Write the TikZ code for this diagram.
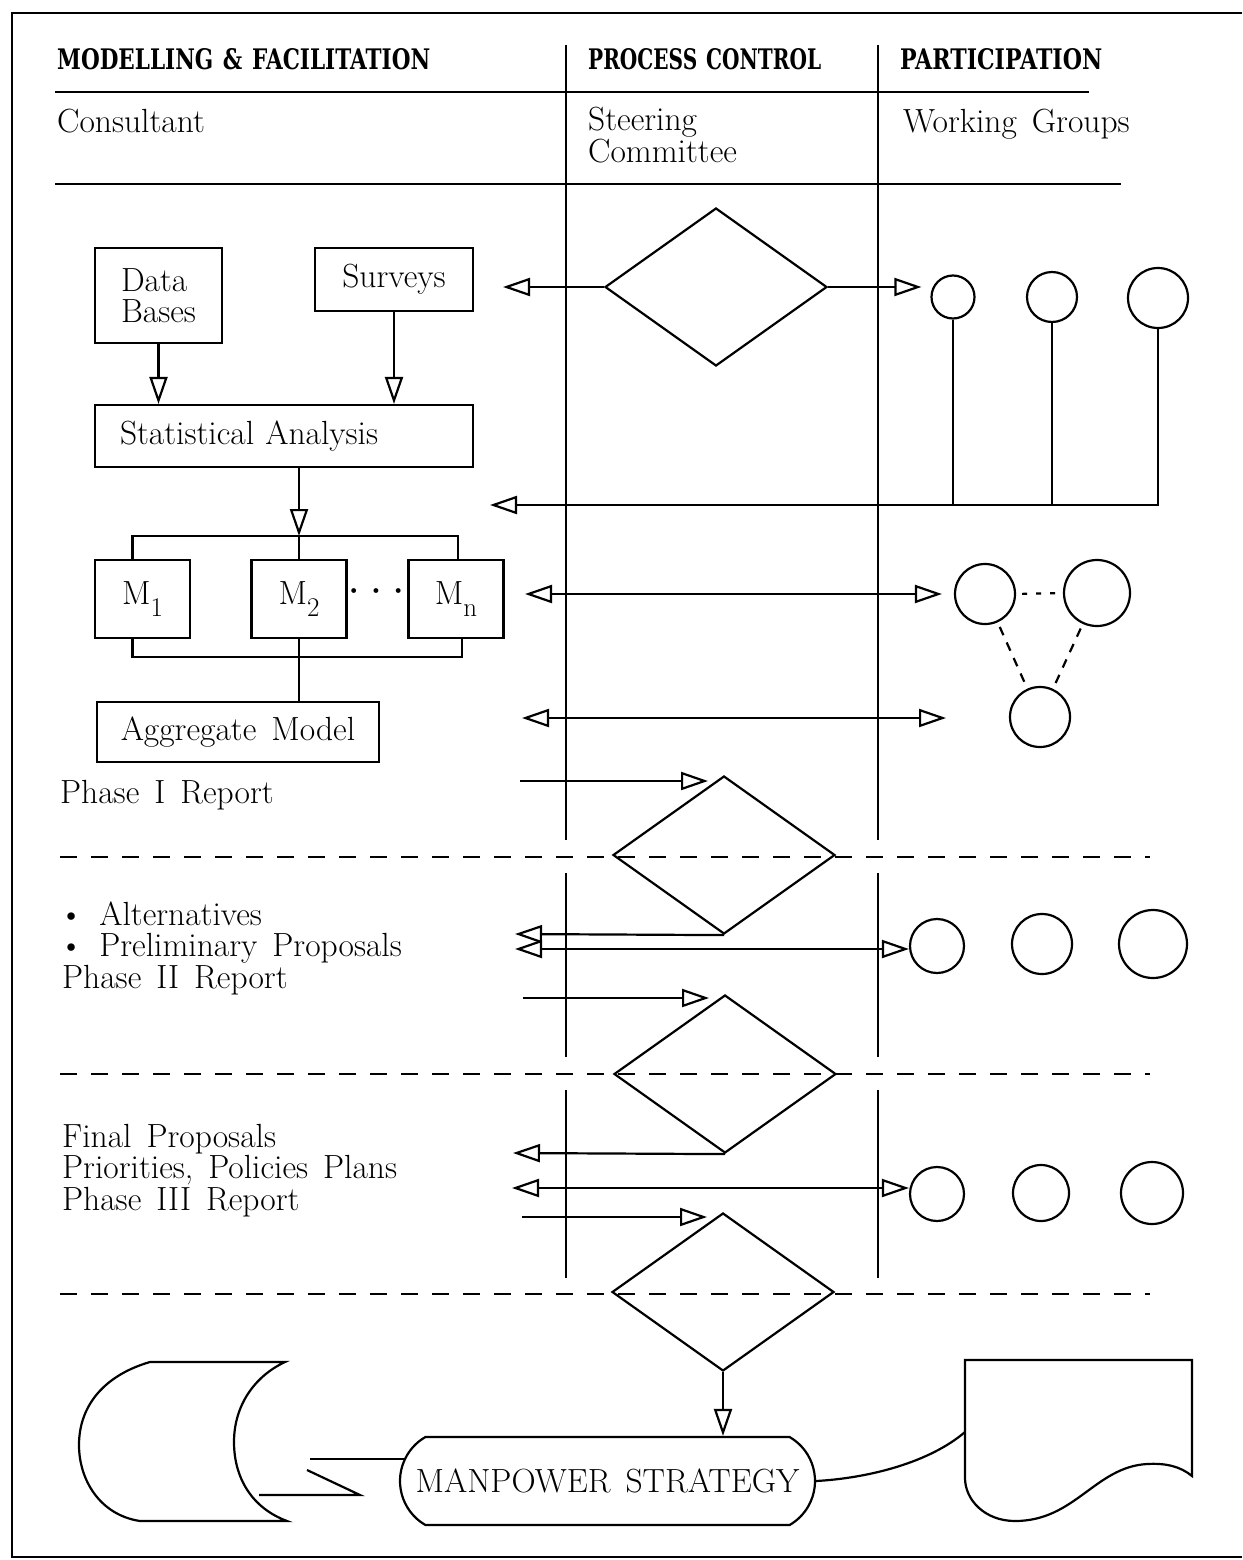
\documentclass[tikz,border=0pt]{standalone}
\usepackage{fontspec}
\usepackage{graphicx}
\newfontfamily\hdrfont{DejaVu Serif}
\newcommand\widesp{\spaceskip=15pt plus 3pt minus 3pt\relax}
\newcommand\bodyfont{\fontsize{33.5}{31}\selectfont\widesp}
\usetikzlibrary{arrows.meta,shapes.geometric,shapes.misc}
\begin{document}
\begin{tikzpicture}[x=1pt,y=-1pt,
  every node/.style={font=\bodyfont, inner sep=0pt},
  ln/.style={line width=2.2pt},
  arr/.style={ln,-{Triangle[open,length=27pt,width=18pt]}},
  darr/.style={ln,{Triangle[open,length=27pt,width=18pt]}-{Triangle[open,length=27pt,width=18pt]}},
  box/.style={draw,line width=2.2pt,inner sep=0pt},
  dia/.style={draw,diamond,line width=2.2pt,minimum width=222pt,minimum height=158pt,inner sep=0pt},
  wg/.style={draw,circle,line width=2.2pt,inner sep=0pt},
  phase/.style={dash pattern=on 17pt off 14pt,line width=2.2pt},
  txt/.style={anchor=base west},
  hline/.style={line width=2.6pt}
]
\useasboundingbox (0,0) rectangle (1242,1560);
% frame
\draw[line width=2pt] (1242,13) -- (12,13) -- (12,1557) -- (1242,1557);

% headers
\node[txt] (h1) at (57,70) {\resizebox{373pt}{21pt}{\hdrfont\bfseries MODELLING \& FACILITATION}};
\node[txt] (h2) at (588,70) {\resizebox{233pt}{21pt}{\hdrfont\bfseries PROCESS CONTROL}};
\node[txt] (h3) at (900,70) {\resizebox{202pt}{21pt}{\hdrfont\bfseries PARTICIPATION}};
\draw[hline] (55,92) -- (1089,92);
\node[txt] (cons) at (57,132) {Consultant};
\node[txt] (st1) at (588,131) {Steering};
\node[txt] (st2) at (588,162) {Committee};
\node[txt] (wgrp) at (903,132) {Working Groups};
\draw[hline] (55,184) -- (1121,184);

% swimlane dividers
\foreach \x in {566,878} {
  \draw[ln] (\x,45) -- (\x,840);
  \draw[ln] (\x,873) -- (\x,1057);
  \draw[ln] (\x,1090) -- (\x,1278);
}
% phase separators
\foreach \y in {857,1074,1294} \draw[phase] (60,\y) -- (1150,\y);

% consultant boxes
\node[box,minimum width=127pt,minimum height=95pt,align=left] (db) at (158.5,295.5) {Data\\Bases};
\node[box,minimum width=158pt,minimum height=63pt] (sv) at (394,279.5) {Surveys};
\node[box,minimum height=62pt,text width=328pt,align=left,inner xsep=25pt] (stat) at (284,436) {Statistical Analysis};
\node[box,minimum width=95pt,minimum height=78pt] (m1) at (142.5,599) {M\raisebox{-12pt}{\fontsize{27}{27}\selectfont 1}};
\node[box,minimum width=95pt,minimum height=78pt] (m2) at (299,599) {M\raisebox{-12pt}{\fontsize{27}{27}\selectfont 2}};
\node[box,minimum width=95pt,minimum height=78pt] (mn) at (456,599) {M\raisebox{-12pt}{\fontsize{27}{27}\selectfont n}};
\node (dots) at (376,596) {\bfseries ·\kern-7pt·\kern-7pt·};
\node[box,minimum width=282pt,minimum height=60pt] (agg) at (238,732) {Aggregate Model};
\node[txt] (p1) at (60,803) {Phase I Report};

\draw[arr] (db.south) -- (db.south |- stat.north);
\draw[arr] (sv.south) -- (sv.south |- stat.north);
\coordinate (bt) at (299,536);
\coordinate (bb) at (299,657);
\draw[arr] (m2.north |- stat.south) -- (bt);
\draw[ln] ([xshift=-10pt]m1.north) |- (bt) -| ([xshift=2pt]mn.north);
\draw[ln] (bt) -- (m2.north);
\draw[ln] ([xshift=-10pt]m1.south) |- (bb) -| ([xshift=6pt]mn.south);
\draw[ln] (m2.south) -- (m2.south |- agg.north);

% steering committee diamonds
\node[dia] (d1) at (716,287) {};
\node[dia] (d2) at (724,855) {};
\node[dia] (d3) at (725,1074) {};
\node[dia] (d4) at (723,1292) {};

% working group circles
\node[wg,minimum size=43pt] (a1) at (953,297) {};
\node[wg,minimum size=50pt] (a2) at (1052,297) {};
\node[wg,minimum size=60pt] (a3) at (1158,298) {};
\node[wg,minimum size=60pt] (b1) at (985,594) {};
\node[wg,minimum size=66pt] (b2) at (1097,593) {};
\node[wg,minimum size=60pt] (b3) at (1040,717) {};
\node[wg,minimum size=54pt] (c1) at (937,946) {};
\node[wg,minimum size=60pt] (c2) at (1042,944) {};
\node[wg,minimum size=68pt] (c3) at (1153,944) {};
\node[wg,minimum size=54pt] (e1) at (937,1194) {};
\node[wg,minimum size=56pt] (e2) at (1041,1193) {};
\node[wg,minimum size=62pt] (e3) at (1152,1193) {};

% phase 1 connectors
\coordinate (t1) at (503,287);
\draw[arr] (d1.west) -- (t1);
\draw[arr] (d1.east) -- ([xshift=-9pt]d1.east -| a1.west);
\coordinate (fb) at (1158,505);
\coordinate (fbt) at (490,505);
\draw[ln] (a1.south) -- (a1.south |- fb);
\draw[ln] (a2.south) -- (a2.south |- fb);
\draw[arr] (a3.south) |- (fbt);
\coordinate (r1) at (525,594);
\draw[darr] (r1) -- ([xshift=-12pt]b1.west);
\coordinate (r2) at (522,718);
\coordinate (r2e) at (946,718);
\draw[darr] (r2) -- (r2e);
\draw[ln,dash pattern=on 5pt off 9pt,shorten <=6pt,shorten >=6pt] (b1.east) -- (b2.west);
\draw[ln,dash pattern=on 9pt off 8pt,shorten <=5pt,shorten >=5pt] (b1) -- (b3);
\draw[ln,dash pattern=on 9pt off 8pt,shorten <=5pt,shorten >=5pt] (b2) -- (b3);
\coordinate (p1s) at (520,781);
\draw[arr] (p1s) -- ([xshift=-16pt]p1s -| d2.north);

% phase 2
\node[txt] (alt) at (59,925) {\textbullet\hspace{16pt}Alternatives};
\node[txt] (pre) at (59,956) {\textbullet\hspace{16pt}Preliminary Proposals};
\node[txt] (p2) at (62,988) {Phase II Report};
\coordinate (q1) at (515,934);
\draw[arr] (d2.south) -- (q1);
\coordinate (q2) at (515,949);
\draw[darr] (q2) -- (q2 -| c1.west);
\coordinate (q3) at (523,998);
\draw[arr] (q3) -- ([xshift=-16pt]q3 -| d3.north);

% phase 3
\node[txt] (fin) at (62,1147) {Final Proposals};
\node[txt] (pri) at (62,1178) {Priorities, Policies Plans};
\node[txt] (p3) at (62,1210) {Phase III Report};
\coordinate (s1) at (513,1153);
\draw[arr] (d3.south) -- (s1);
\coordinate (s2) at (512,1188);
\draw[darr] (s2) -- (s2 -| e1.west);
\coordinate (s3) at (522,1217);
\draw[arr] (s3) -- ([xshift=-16pt]s3 -| d4.north);

% final
\node[draw,rounded rectangle,rounded rectangle arc length=120,line width=2.2pt,minimum width=415pt,minimum height=88pt] (ms) at (607.5,1481) {MANPOWER STRATEGY};
\draw[arr] (d4.south) -- (d4.south |- ms.north);

% stored data shape
\draw[ln] (150,1362) -- (285,1362) .. controls (255,1376) and (234,1405) .. (234,1442)
  .. controls (234,1478) and (252,1508) .. (287,1521) -- (140,1521)
  .. controls (100,1515) and (79,1480) .. (79,1445)
  .. controls (79,1405) and (105,1375) .. (150,1362) -- cycle;
\coordinate (l1) at (310,1459);
\draw[ln] (l1) -- ([xshift=5pt]l1 -| ms.west);
\coordinate (z1) at (307,1470);
\coordinate (z2) at (360,1495);
\coordinate (z3) at (259,1495);
\draw[ln] (z1) -- (z2) -- (z3);

% document shape
\draw[ln] (965,1360) -- (1192,1360) -- (1192,1476)
  .. controls (1180,1466) and (1165,1463) .. (1147,1464)
  .. controls (1095,1467) and (1075,1521) .. (1015,1521)
  .. controls (985,1521) and (965,1500) .. (965,1478) -- cycle;
\coordinate (docin) at (965,1432);
\draw[ln] (ms.east) .. controls (870,1478) and (930,1462) .. (docin);
\end{tikzpicture}
\end{document}
